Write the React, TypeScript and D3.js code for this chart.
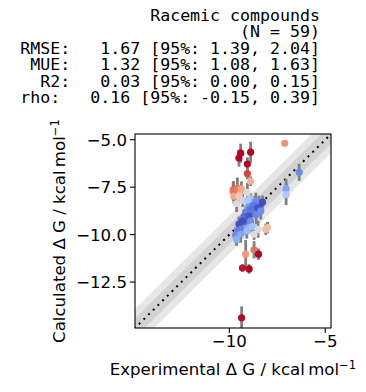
import React, { useEffect, useRef } from 'react';
import * as d3 from 'd3';

// experimental vs calculated free energies (kcal/mol)
const experimental = [
  -8.80, -9.00, -8.45, -9.10, -9.50, -9.20, -8.60, -9.70, -9.45, -9.30, -9.55, -8.90,
  -9.41, -9.50, -8.89, -9.06, -9.06, -8.89, -7.11,
  -6.36, -7.04, -7.04,
  -9.79, -9.80, -9.58, -9.37, -9.76, -9.50, -9.06, -9.62, -9.06,
  -8.62, -8.27, -8.74, -8.53, -8.92, -8.36, -9.15, -9.24, -8.97, -9.32, -8.89,
  -9.41, -8.97, -8.80, -9.09, -8.50, -8.01, -8.10, -9.67, -9.41, -8.71, -9.62,
  -9.15, -8.71, -8.48, -9.32, -8.97, -9.36,
];

const calculated = [
  -8.35, -8.55, -8.45, -9.20, -9.45, -9.70, -8.95, -7.85, -7.80, -8.20, -9.85, -8.10,
  -5.71, -5.97, -5.66, -6.28, -6.78, -7.19, -5.19,
  -6.72, -7.58, -7.89,
  -7.63, -7.72, -7.54, -7.59, -7.98, -8.01, -7.77, -8.36, -8.19,
  -8.24, -8.29, -8.47, -8.59, -8.68, -8.76, -8.85, -9.06, -9.03, -9.29, -9.29,
  -9.72, -9.63, -9.58, -9.81, -9.72, -9.63, -9.72, -10.03, -9.98, -9.98, -10.24,
  -11.03, -10.80, -11.03, -11.76, -11.81, -14.38,
];

const calcError = [
  0.4, 0.35, 0.5, 0.45, 0.4, 0.3, 0.5, 0.45, 0.4, 0.35, 0.4, 0.3,
  0.5, 0.45, 0.55, 0.35, 0.3, 0.25, 0.1,
  0.45, 0.5, 0.55,
  0.45, 0.5, 0.55, 0.4, 0.4, 0.35, 0.5, 0.45, 0.4,
  0.45, 0.35, 0.5, 0.4, 0.5, 0.45, 0.3, 0.4, 0.35, 0.3, 0.4,
  0.35, 0.3, 0.35, 0.4, 0.45, 0.3, 0.3, 0.4, 0.45, 0.3, 0.35,
  0.75, 0.45, 0.3, 0.2, 0.25, 0.6,
];

const xTicks = [-10, -5];
const yTicks = [-5.0, -7.5, -10.0, -12.5];

const titleLines = [
  'Racemic compounds',
  '(N = 59)',
  'RMSE:   1.67 [95%: 1.39, 2.04]',
  ' MUE:   1.32 [95%: 1.08, 1.63]',
  '  R2:   0.03 [95%: 0.00, 0.15]',
  'rho:   0.16 [95%: -0.15, 0.39]',
];

// matplotlib coolwarm
const coolwarmStops = ['#3b4cc0', '#6282ea', '#8db0fe', '#b8d0f9', '#dddddd', '#f5c4ad', '#f49a7b', '#de604d', '#b40426'];

const width = 366;
const height = 392;
const margin = { top: 134, right: 36, bottom: 64, left: 135 };

const App: React.FC = () => {
  const svgRef = useRef<SVGSVGElement>(null);

  useEffect(() => {
    if (!svgRef.current) return;
    const svg = d3.select(svgRef.current);
    svg.selectAll('*').remove();

    const x0 = margin.left;
    const x1 = width - margin.right + 1;
    const y0 = height - margin.bottom;
    const y1 = margin.top;
    const domain: [number, number] = [-14.92, -4.7];

    const x = d3.scaleLinear().domain(domain).range([x0, x1]);
    const y = d3.scaleLinear().domain(domain).range([y0, y1]);

    const cmap = d3.scaleLinear<string>()
      .domain(coolwarmStops.map((_, i) => i / (coolwarmStops.length - 1)))
      .range(coolwarmStops)
      .interpolate(d3.interpolateRgb)
      .clamp(true);
    const vmax = 2.5;

    svg.append('defs').append('clipPath').attr('id', 'plot-clip')
      .append('rect')
      .attr('x', x0).attr('y', y1)
      .attr('width', x1 - x0).attr('height', y0 - y1);

    const plot = svg.append('g').attr('clip-path', 'url(#plot-clip)');

    // shaded bands: +-1 and +-0.5 kcal/mol
    const lo = domain[0] - 2;
    const hi = domain[1] + 2;
    [1, 0.5].forEach(shift => {
      const area = d3.area<number>()
        .x(d => x(d))
        .y0(d => y(d - shift))
        .y1(d => y(d + shift));
      plot.append('path')
        .datum([lo, hi])
        .attr('d', area)
        .attr('fill', 'grey')
        .attr('fill-opacity', 0.2);
    });

    // diagonal
    plot.append('line')
      .attr('x1', x(lo)).attr('y1', y(lo))
      .attr('x2', x(hi)).attr('y2', y(hi))
      .attr('stroke', '#000')
      .attr('stroke-width', 2)
      .attr('stroke-dasharray', '2,4.6');

    const data = experimental.map((e, i) => ({ exp: e, calc: calculated[i], err: calcError[i] }));

    // error bars
    plot.selectAll('.err')
      .data(data)
      .enter()
      .append('line')
      .attr('x1', d => x(d.exp))
      .attr('x2', d => x(d.exp))
      .attr('y1', d => y(d.calc - d.err))
      .attr('y2', d => y(d.calc + d.err))
      .attr('stroke', '#808080')
      .attr('stroke-width', 2.8);

    // points coloured by absolute error
    plot.selectAll('.pt')
      .data(data)
      .enter()
      .append('circle')
      .attr('cx', d => x(d.exp))
      .attr('cy', d => y(d.calc))
      .attr('r', 3.6)
      .attr('fill', d => cmap(Math.abs(d.calc - d.exp) / vmax));

    // frame
    svg.append('rect')
      .attr('x', x0).attr('y', y1)
      .attr('width', x1 - x0).attr('height', y0 - y1)
      .attr('fill', 'none')
      .attr('stroke', '#000')
      .attr('stroke-width', 1.1);

    const font = '"DejaVu Sans", sans-serif';
    const fs = 16.6;

    // x ticks
    xTicks.forEach(t => {
      svg.append('line')
        .attr('x1', x(t)).attr('x2', x(t))
        .attr('y1', y0).attr('y2', y0 + 5)
        .attr('stroke', '#000').attr('stroke-width', 1.1);
      svg.append('text')
        .attr('x', x(t)).attr('y', y0 + 19)
        .attr('text-anchor', 'middle')
        .style('font-family', font).style('font-size', `${fs}px`)
        .text(d3.format('d')(t).replace('-', '\u2212'));
    });

    // y ticks
    yTicks.forEach(t => {
      svg.append('line')
        .attr('x1', x0 - 5).attr('x2', x0)
        .attr('y1', y(t)).attr('y2', y(t))
        .attr('stroke', '#000').attr('stroke-width', 1.1);
      svg.append('text')
        .attr('x', x0 - 8).attr('y', y(t))
        .attr('dy', '0.36em')
        .attr('text-anchor', 'end')
        .style('font-family', font).style('font-size', `${fs}px`)
        .text(d3.format('.1f')(t).replace('-', '\u2212'));
    });

    // axis labels
    const xl = svg.append('text')
      .attr('x', (x0 + x1) / 2).attr('y', 375)
      .attr('text-anchor', 'middle')
      .style('font-family', font).style('font-size', `${fs}px`);
    xl.append('tspan').text('Experimental \u0394 G / kcal\u2009mol');
    xl.append('tspan').attr('dy', -6).style('font-size', `${fs * 0.7}px`).text('\u22121');

    const yl = svg.append('text')
      .attr('transform', `translate(65,${(y0 + y1) / 2}) rotate(-90)`)
      .attr('text-anchor', 'middle')
      .style('font-family', font).style('font-size', `${fs}px`);
    yl.append('tspan').text('Calculated \u0394 G / kcal\u2009mol');
    yl.append('tspan').attr('dy', -6).style('font-size', `${fs * 0.7}px`).text('\u22121');

    // title block, monospace, right aligned
    svg.append('g')
      .selectAll('text')
      .data(titleLines)
      .enter()
      .append('text')
      .attr('x', 320)
      .attr('y', (_, i) => 20.7 + i * 16.5)
      .attr('text-anchor', 'end')
      .attr('xml:space', 'preserve')
      .style('font-family', '"DejaVu Sans Mono", monospace')
      .style('font-size', `${fs}px`)
      .style('white-space', 'pre')
      .text(d => d);
  }, []);

  return (
    <svg
      ref={svgRef}
      width={width}
      height={height}
      style={{ position: 'absolute', left: 0, top: 0, background: '#fff' }}
    />
  );
};

export default App;
